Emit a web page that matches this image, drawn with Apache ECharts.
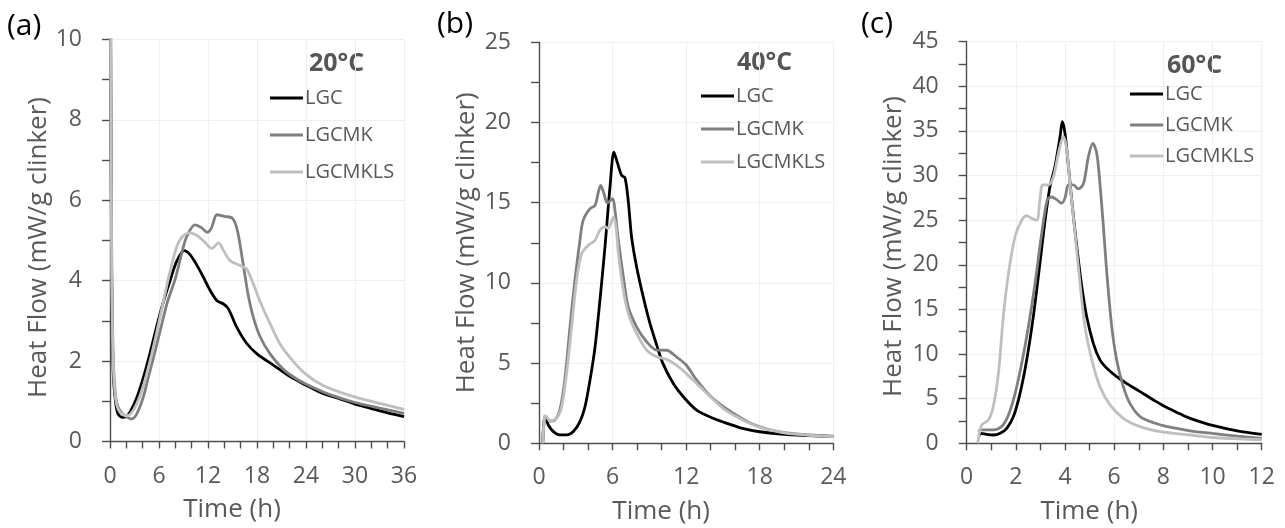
<!DOCTYPE html>
<html><head><meta charset="utf-8">
<script src="https://cdn.jsdelivr.net/npm/echarts@6/dist/echarts.min.js"></script>
<style>html,body{margin:0;padding:0;background:#fff}#c{width:1285px;height:528px}</style>
</head><body><div id="c"></div>
<script>
// ---- data ----
const seriesNames = ['LGC', 'LGCMK', 'LGCMKLS'];
const panelLabels = ['(a)', '(b)', '(c)'];
const tempLabels = ['20°C', '40°C', '60°C'];
const xAxisName = 'Time (h)';
const yAxisName = 'Heat Flow (mW/g clinker)';
const xMax = [36, 24, 12];
const xInterval = [6, 6, 2];
const yMax = [10, 25, 45];
const yInterval = [2, 5, 5];

// Panel (a) 20°C  [time h, heat flow]
const lgc20 = [[0.05,12],[0.2,4.2],[0.4,1.7],[0.7,0.95],[1.0,0.68],[1.5,0.6],[2.0,0.62],[2.5,0.75],[3.3,1.1],[4.1,1.6],[4.9,2.2],[5.7,2.85],[6.5,3.45],[7.35,4.0],[8.2,4.5],[9.1,4.75],[9.8,4.65],[10.6,4.4],[11.4,4.1],[12.2,3.78],[13.1,3.5],[13.9,3.42],[14.5,3.3],[15.5,2.85],[16.7,2.45],[18,2.18],[20,1.9],[22,1.62],[24,1.4],[26,1.2],[28,1.07],[30,0.93],[32,0.82],[34,0.71],[36,0.62]];
const lgcmk20 = [[0.05,12],[0.2,5],[0.4,2.0],[0.7,1.1],[1.0,0.85],[1.5,0.7],[2.0,0.62],[2.6,0.56],[3.0,0.6],[3.5,0.78],[4.1,1.12],[4.7,1.6],[5.4,2.15],[6.2,2.8],[7.0,3.45],[8.0,4.05],[8.8,4.7],[9.4,5.1],[10.4,5.39],[11.2,5.32],[11.9,5.2],[12.4,5.3],[13.1,5.64],[14.0,5.6],[15.0,5.55],[15.6,5.25],[16.3,4.42],[16.9,3.67],[17.55,3.09],[18.4,2.6],[19.6,2.18],[21.2,1.8],[22.9,1.55],[25,1.33],[27,1.16],[30,0.97],[33,0.83],[36,0.7]];
const lgcmkls20 = [[0.05,12],[0.2,4.5],[0.4,1.9],[0.7,1.05],[1.0,0.8],[1.5,0.68],[2.0,0.64],[2.5,0.68],[3.3,0.95],[4.1,1.4],[4.9,2.0],[5.7,2.7],[6.5,3.45],[7.2,4.1],[8.1,4.8],[8.8,5.08],[9.8,5.19],[10.6,5.13],[11.6,4.96],[12.45,4.8],[13.3,4.94],[13.9,4.75],[14.7,4.5],[15.9,4.38],[16.7,4.3],[17.55,3.92],[18.4,3.47],[19.6,2.93],[20.8,2.43],[22,2.1],[23.7,1.72],[26.1,1.39],[29.4,1.14],[33,0.95],[36,0.8]];

// Panel (b) 40°C
const lgc40 = [[0.3,0],[0.45,1.7],[0.55,1.6],[0.76,1.14],[1.17,0.73],[1.7,0.52],[2.25,0.52],[2.8,0.73],[3.34,1.35],[3.75,2.28],[4.16,3.94],[4.57,6.0],[4.97,8.92],[5.38,12.24],[5.79,15.98],[6.11,18.15],[6.39,17.5],[6.74,16.7],[7.01,16.56],[7.28,15.1],[7.55,12.86],[7.96,11.0],[8.5,9.13],[9.05,7.47],[9.6,6.12],[10.1,4.98],[10.95,3.73],[11.77,2.9],[12.85,2.07],[14.2,1.56],[15.57,1.18],[16.5,0.95],[18,0.72],[20,0.55],[22,0.48],[24,0.42]];
const lgcmk40 = [[0.3,0],[0.45,1.6],[0.55,1.68],[0.9,1.38],[1.3,1.45],[1.7,2.07],[2.1,3.94],[2.53,7.26],[2.93,10.17],[3.34,12.66],[3.6,13.9],[4.16,14.63],[4.57,14.83],[4.84,15.66],[5.03,16.08],[5.3,15.56],[5.57,14.98],[6.0,15.25],[6.2,14.5],[6.47,12.66],[6.88,10.37],[7.28,8.5],[7.96,7.26],[8.78,6.33],[9.6,5.81],[10.4,5.8],[11.2,5.39],[12.0,4.88],[12.85,3.95],[13.9,3.0],[15,2.3],[16,1.8],[17,1.35],[18,1.02],[19,0.8],[20,0.66],[22,0.52],[24,0.45]];
const lgcmkls40 = [[0.3,0],[0.45,1.65],[0.55,1.7],[0.9,1.38],[1.44,1.56],[1.85,2.28],[2.25,4.36],[2.66,7.26],[3.07,10.17],[3.48,11.83],[4.02,12.34],[4.57,12.66],[4.97,13.28],[5.38,13.5],[5.65,13.4],[6.06,14.1],[6.28,13.5],[6.47,11.83],[6.88,9.54],[7.28,8.09],[7.96,6.85],[8.78,5.81],[9.6,5.39],[10.4,5.23],[11.2,4.88],[12,4.36],[12.85,3.73],[13.9,2.95],[15,2.18],[16,1.7],[17,1.3],[18,1.0],[19,0.8],[20,0.65],[22,0.5],[24,0.42]];

// Panel (c) 60°C
const lgc60 = [[0.5,0.8],[0.57,1.12],[0.81,1.0],[1.08,0.93],[1.36,1.12],[1.63,1.68],[1.9,2.99],[2.17,5.6],[2.44,9.34],[2.71,14.2],[2.98,20.2],[3.19,25.0],[3.39,28.8],[3.59,31.0],[3.8,34.4],[3.89,36.05],[4.0,34.7],[4.14,31.0],[4.27,27.3],[4.48,22.0],[4.68,17.6],[4.88,14.2],[5.15,11.2],[5.42,9.34],[5.7,8.4],[6.1,7.47],[6.5,6.72],[7.05,5.79],[7.6,4.86],[8.14,4.0],[8.68,3.3],[9.09,2.8],[10,2.0],[11,1.4],[12,1.0]];
const lgcmk60 = [[0.5,1.3],[0.54,1.5],[1.08,1.5],[1.42,1.87],[1.7,3.18],[1.97,5.6],[2.24,8.97],[2.51,13.07],[2.78,17.9],[3.05,23.5],[3.28,27.3],[3.46,27.6],[3.66,27.3],[3.86,26.9],[4.0,27.5],[4.14,28.95],[4.34,28.95],[4.54,28.5],[4.75,29.1],[4.95,32.1],[5.13,33.6],[5.29,32.5],[5.42,29.1],[5.56,24.3],[5.7,19.05],[5.9,13.07],[6.1,9.34],[6.37,6.35],[6.64,4.48],[7.05,3.0],[7.6,2.3],[8.27,1.8],[9.09,1.4],[10,1.1],[11,0.8],[12,0.55]];
const lgcmkls60 = [[0.45,0],[0.61,2.05],[0.88,2.6],[1.08,4.1],[1.29,7.84],[1.49,14.2],[1.7,19.05],[1.97,23.2],[2.24,25.0],[2.44,25.5],[2.64,25.2],[2.85,25.0],[2.98,27.3],[3.09,28.95],[3.32,28.95],[3.53,29.9],[3.73,32.5],[3.93,34.4],[4.07,32.9],[4.2,29.1],[4.41,23.5],[4.61,17.9],[4.81,13.07],[5.09,9.34],[5.42,6.35],[5.83,4.3],[6.37,2.8],[7.05,1.87],[7.87,1.31],[9.09,0.93],[10,0.65],[11,0.5],[12,0.4]];

const panelData = [
  [lgc20, lgcmk20, lgcmkls20],
  [lgc40, lgcmk40, lgcmkls40],
  [lgc60, lgcmk60, lgcmkls60]
];

// ---- layout / style ----
const FONT = 'Open Sans';
const TXT = '#595959';
const AX = '#4d4d4d';
const colors = ['#000000', '#7f7f7f', '#bfbfbf'];
const grids = [
  {left: 110, top: 39.5, width: 294, height: 402},
  {left: 539, top: 42.3, width: 294.3, height: 401},
  {left: 966.7, top: 41.7, width: 295, height: 401.6}
];
const xMinorSplit = [3, 3, 2];
const yMinorSplit = [2, 2, 2];
const yNameGap = [54, 59, 60];
const yNamePad = [[0, 14, 0, 0], [0, 0, 0, 0], [0, 8, 0, 0]];
const legendPos = [{left: 270, top: 88, gap: 17}, {left: 701, top: 86, gap: 13}, {left: 1130, top: 84, gap: 11}];
const tempPos = [[309, 64], [737, 62.5], [1167, 66]];
const labelPos = [[7, 26], [437, 24], [861, 24]];

const chart = echarts.init(document.getElementById('c'), null, {renderer: 'canvas'});
const axisLineStyle = {color: AX, width: 1.4};

const option = {
  animation: false,
  backgroundColor: '#ffffff',
  grid: grids.map(g => Object.assign({containLabel: false, outerBoundsMode: 'none'}, g)),
  xAxis: grids.map((g, i) => ({
    type: 'value', gridIndex: i, min: 0, max: xMax[i], interval: xInterval[i],
    axisLine: {show: true, onZero: false, lineStyle: axisLineStyle},
    axisTick: {show: true, length: 7, lineStyle: axisLineStyle},
    minorTick: {show: true, splitNumber: xMinorSplit[i], length: 7, lineStyle: axisLineStyle},
    splitLine: {show: true, lineStyle: {color: '#efefef', width: 1}},
    axisLabel: {margin: 23, color: TXT, fontSize: 23, fontFamily: FONT},
    name: xAxisName, nameLocation: 'middle', nameGap: 55,
    nameTextStyle: {color: TXT, fontSize: 26, fontFamily: FONT, padding: [0, 50, 0, 0]}
  })),
  yAxis: grids.map((g, i) => ({
    type: 'value', gridIndex: i, min: 0, max: yMax[i], interval: yInterval[i],
    axisLine: {show: true, lineStyle: axisLineStyle},
    axisTick: {show: true, length: 8, lineStyle: axisLineStyle},
    minorTick: {show: true, splitNumber: yMinorSplit[i], length: 8, lineStyle: axisLineStyle},
    splitLine: {show: true, lineStyle: {color: '#efefef', width: 1}},
    axisLabel: {margin: 28, color: TXT, fontSize: 23, fontFamily: FONT},
    name: yAxisName, nameLocation: 'middle', nameGap: yNameGap[i],
    nameTextStyle: {color: TXT, fontSize: 26, fontFamily: FONT, padding: yNamePad[i]}
  })),
  legend: legendPos.map(p => ({
    data: seriesNames, orient: 'vertical', left: p.left, top: p.top, itemGap: p.gap,
    icon: 'rect', itemWidth: 33, itemHeight: 3, selectedMode: false, padding: 0,
    textStyle: {color: TXT, fontSize: 20, fontFamily: FONT, padding: [0, 0, 0, -3]}
  })),
  graphic: [
    ...tempLabels.map((t, i) => ({
      type: 'text', x: tempPos[i][0], y: tempPos[i][1], silent: true,
      style: {text: t, fill: '#555555', font: 'bold 25px "' + FONT + '"', textVerticalAlign: 'middle'}
    })),
    ...panelLabels.map((t, i) => ({
      type: 'text', x: labelPos[i][0], y: labelPos[i][1], silent: true,
      style: {text: t, fill: '#000000', font: '30px "' + FONT + '"', textVerticalAlign: 'middle'}
    }))
  ],
  series: []
};

panelData.forEach((sets, p) => {
  sets.forEach((d, k) => {
    option.series.push({
      type: 'line', name: seriesNames[k], xAxisIndex: p, yAxisIndex: p,
      data: d, showSymbol: false, symbol: 'none', smooth: 0.3,
      clip: true, color: colors[k],
      lineStyle: {color: colors[k], width: 2.8}
    });
  });
});

chart.setOption(option);
</script></body></html>
